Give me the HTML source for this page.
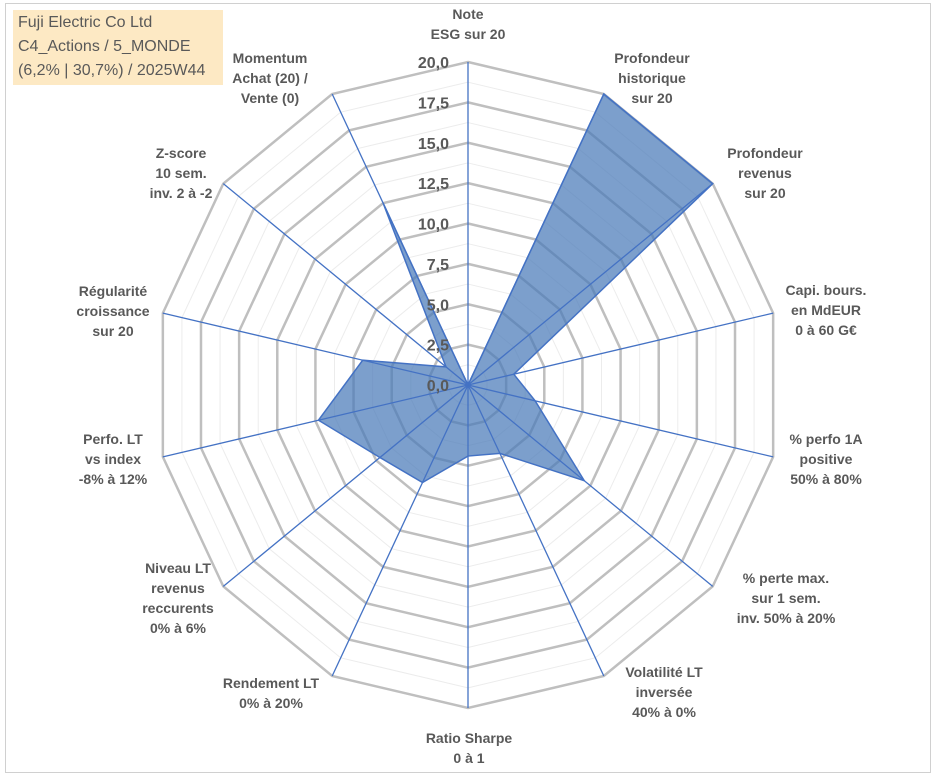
<!DOCTYPE html>
<html><head><meta charset="utf-8"><style>
body{margin:0;background:#fff;}
#wrap{position:relative;width:933px;height:776px;overflow:hidden;font-family:"Liberation Sans",sans-serif;}
.lbl{position:absolute;transform:translate(-50%,-50%);text-align:center;font-weight:bold;font-size:14px;line-height:20px;color:#595959;white-space:nowrap;}
</style></head><body>
<div id="wrap">
<div style="position:absolute;left:5px;top:3px;width:924px;height:768px;border:1px solid #d0d0d0;"></div>
<svg id="radar" width="933" height="776" style="position:absolute;left:0;top:0"></svg>
<div style="position:absolute;left:13px;top:10px;width:210px;height:75px;background:#fde9c4;color:#595959;font-size:16px;line-height:24px;padding-left:5px;box-sizing:border-box;padding-top:1px;">Fuji Electric Co Ltd<br>C4_Actions / 5_MONDE<br>(6,2% | 30,7%) / 2025W44</div>
<div id="labels"></div>
</div>
<script>
const categories=["Note<br>ESG sur 20","Profondeur<br>historique<br>sur 20","Profondeur<br>revenus<br>sur 20","Capi. bours.<br>en MdEUR<br>0 à 60 G€","% perfo 1A<br>positive<br>50% à 80%","% perte max.<br>sur 1 sem.<br>inv. 50% à 20%","Volatilité LT<br>inversée<br>40% à 0%","Ratio Sharpe<br>0 à 1","Rendement LT<br>0% à 20%","Niveau LT<br>revenus<br>reccurents<br>0% à 6%","Perfo. LT<br>vs index<br>-8% à 12%","Régularité<br>croissance<br>sur 20","Z-score<br>10 sem.<br>inv. 2 à -2","Momentum<br>Achat (20) /<br>Vente (0)"];
const values=[0,20,20,3,4.4,9.5,4.7,4.4,6.7,7.2,9.8,6.9,1.8,12.5];
const tickValues=[0,2.5,5,7.5,10,12.5,15,17.5,20];
const tickLabels=["0,0","2,5","5,0","7,5","10,0","12,5","15,0","17,5","20,0"];
const labelPos=[[468,24],[652,78],[765,173],[826,310],[826,459],[786,598],[664,692],[469,748],[271,693],[178,598],[113,459],[113,311],[181,173],[270,78]];

const cx=468,cy=385,RX=313,RY=323,maxV=20,N=categories.length;
const svg=document.getElementById('radar');
const NS='http://www.w3.org/2000/svg';
function ang(i){return -Math.PI/2+2*Math.PI*i/N;}
function pt(i,v){const f=v/maxV;return [cx+f*RX*Math.cos(ang(i)),cy+f*RY*Math.sin(ang(i))];}
function mk(t,a){const e=document.createElementNS(NS,t);for(const k in a)e.setAttribute(k,a[k]);svg.appendChild(e);return e;}
for(let k=0;k<tickValues.length-1;k++){
  const v=(tickValues[k]+tickValues[k+1])/2;
  const p=mk('polygon',{points:categories.map((c,i)=>pt(i,v).join(',')).join(' '),fill:'none',stroke:'#ececec','stroke-width':1});
  
  
}
tickValues.forEach(v=>{
  if(v===0)return;
  const p=mk('polygon',{points:categories.map((c,i)=>pt(i,v).join(',')).join(' '),fill:'none',stroke:'#bfbfbf','stroke-width':2.5});
  
  
});
const poly=mk('polygon',{points:values.map((v,i)=>pt(i,v).join(',')).join(' '),fill:'#4a7ab8','fill-opacity':0.72,stroke:'#4472c4','stroke-width':1.5});


categories.forEach((c,i)=>{
  const e=pt(i,maxV);
  const l=mk('line',{x1:cx,y1:cy,x2:e[0],y2:e[1],stroke:'#4472c4','stroke-width':1.3});
  
  
});
tickValues.forEach((v,k)=>{
  const y=cy-v/maxV*RY;
  const t=mk('text',{x:cx-19,y:y+6,'text-anchor':'end','font-family':'Liberation Sans, sans-serif','font-size':16,'font-weight':'bold',fill:'#595959'});
  t.textContent=tickLabels[k];
  
  
});
const L=document.getElementById('labels');
categories.forEach((c,i)=>{
  const d=document.createElement('div');
  d.className='lbl';
  d.innerHTML=c;
  d.style.left=labelPos[i][0]+'px';
  d.style.top=labelPos[i][1]+'px';
  
  
  L.appendChild(d);
});
</script>
</body></html>
